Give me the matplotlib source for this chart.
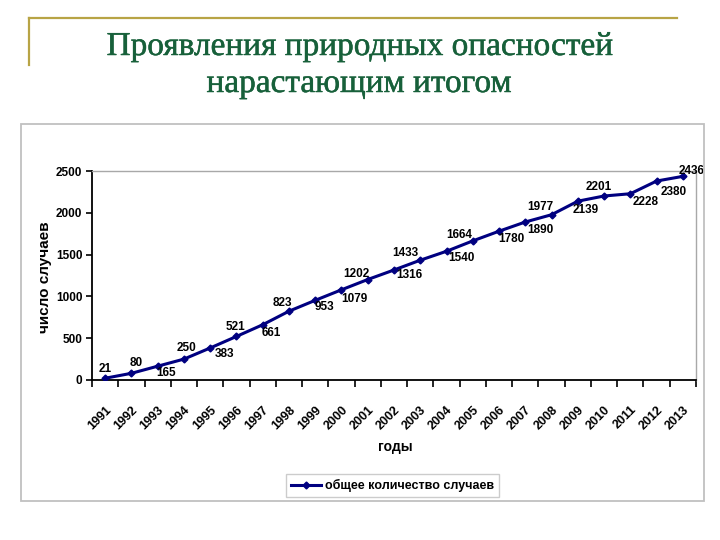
import matplotlib
matplotlib.use("Agg")
import matplotlib.pyplot as plt
from matplotlib.lines import Line2D
from matplotlib.patches import Rectangle
import matplotlib.patheffects as pe

years = [str(y) for y in range(1991, 2014)]
values = [21, 80, 165, 250, 383, 521, 661, 823, 953, 1079, 1202, 1316,
          1433, 1540, 1664, 1780, 1890, 1977, 2139, 2201, 2228, 2380, 2436]
series_name = "общее количество случаев"
title_lines = ["Проявления природных опасностей", "нарастающим итогом"]
y_label = "число случаев"
x_label = "годы"
y_ticks = [0, 500, 1000, 1500, 2000, 2500]

# label offsets (pixels) relative to each point – style only
label_offsets = [(0, 9), (5, 10), (8, -7), (3, 11), (14, -6), (-1, 9), (9, -8),
                 (-7, 8), (9, -7), (13, -9), (-11, 6), (15, -5), (-15, 7),
                 (15, -7), (-14, 6), (12, -8), (15, -8), (-11, 8), (8, -9),
                 (-5, 9), (15, -8), (17, -11), (9, 5)]

W, H = 720, 540
fig = plt.figure(figsize=(W / 100, H / 100), dpi=100)
fig.patch.set_facecolor("white")

def fx(px):
    return px / W

def fy(py):
    return 1 - py / H

# decorative gold lines
gold = "#b8a445"
fig.add_artist(Line2D([fx(29), fx(677)], [fy(17.7), fy(17.7)], color=gold, lw=1.6,
                      transform=fig.transFigure))
fig.add_artist(Line2D([fx(29), fx(29)], [fy(17.7), fy(65)], color=gold, lw=1.6,
                      transform=fig.transFigure))

# title
title_color = "#17603a"
thick = [pe.withStroke(linewidth=0.35, foreground=title_color)]
fig.text(fx(360), fy(55), title_lines[0], ha="center", va="baseline",
         fontsize=24, color=title_color, family="Liberation Serif",
         path_effects=thick)
fig.text(fx(359), fy(92), title_lines[1], ha="center", va="baseline",
         fontsize=24, color=title_color, family="Liberation Serif",
         path_effects=thick)

# chart box
fig.add_artist(Rectangle((fx(20.7), fy(501)), fx(704) - fx(20.7), fy(124) - fy(501),
                         transform=fig.transFigure, fill=False,
                         edgecolor="#c0c0c0", lw=1.3))

ax = fig.add_axes([fx(92), fy(380), fx(696) - fx(92), fy(171) - fy(380)])
x = list(range(len(years)))
ax.plot(x, values, color="#000080", lw=2.2, marker="D", markersize=3.5,
        label=series_name, zorder=3)

ax.set_xlim(-0.5, len(years) - 0.5)
ax.set_ylim(0, 2500)
ax.set_yticks(y_ticks)
ax.set_yticklabels([str(v) for v in y_ticks])

ax.set_xticks([i - 0.5 for i in range(len(years) + 1)])
ax.set_xticklabels([])
ax.set_xticks(x, minor=True)
ax.set_xticklabels(years, minor=True, rotation=45, ha="right", va="top",
                   rotation_mode="anchor")
ax.tick_params(axis="x", which="major", length=5, width=1.2, direction="out", color="black")
ax.tick_params(axis="x", which="minor", length=0, pad=17)
ax.tick_params(axis="y", length=4, width=1.2, direction="out", pad=3)

for lab in ax.get_xticklabels(minor=True):
    lab.set_fontfamily("Liberation Sans")
    lab.set_fontweight("bold")
    lab.set_fontsize(9)
for lab in ax.get_yticklabels():
    lab.set_fontfamily("Liberation Sans")
    lab.set_fontweight("bold")
    lab.set_fontsize(8.5)

for s in ["left", "bottom"]:
    ax.spines[s].set_color("black")
    ax.spines[s].set_linewidth(1.3)
for s in ["top", "right"]:
    ax.spines[s].set_color("#a8a8a8")
    ax.spines[s].set_linewidth(1.0)

for xi, v, (dx, dy) in zip(x, values, label_offsets):
    ax.annotate(str(v), (xi, v), xytext=(dx, dy), textcoords="offset pixels",
                ha="center", va="center", fontsize=8.5, fontweight="bold",
                family="Liberation Sans", color="black", zorder=4)

fig.text(fx(45), fy(277), y_label, rotation=90, ha="center", va="center",
         fontsize=11, fontweight="bold", family="Liberation Sans")
fig.text(fx(395), fy(447), x_label, ha="center", va="center",
         fontsize=10, fontweight="bold", family="Liberation Sans")

leg = fig.legend(loc="center", bbox_to_anchor=(fx(392.5), fy(485.5)),
                 prop={"family": "Liberation Sans", "weight": "bold", "size": 9},
                 frameon=True, fancybox=False, handlelength=2.4, handletextpad=0.3,
                 borderpad=0.4, edgecolor="#c0c0c0")
leg.get_frame().set_linewidth(1.0)

fig.savefig("out.png", dpi=100, facecolor="white")
